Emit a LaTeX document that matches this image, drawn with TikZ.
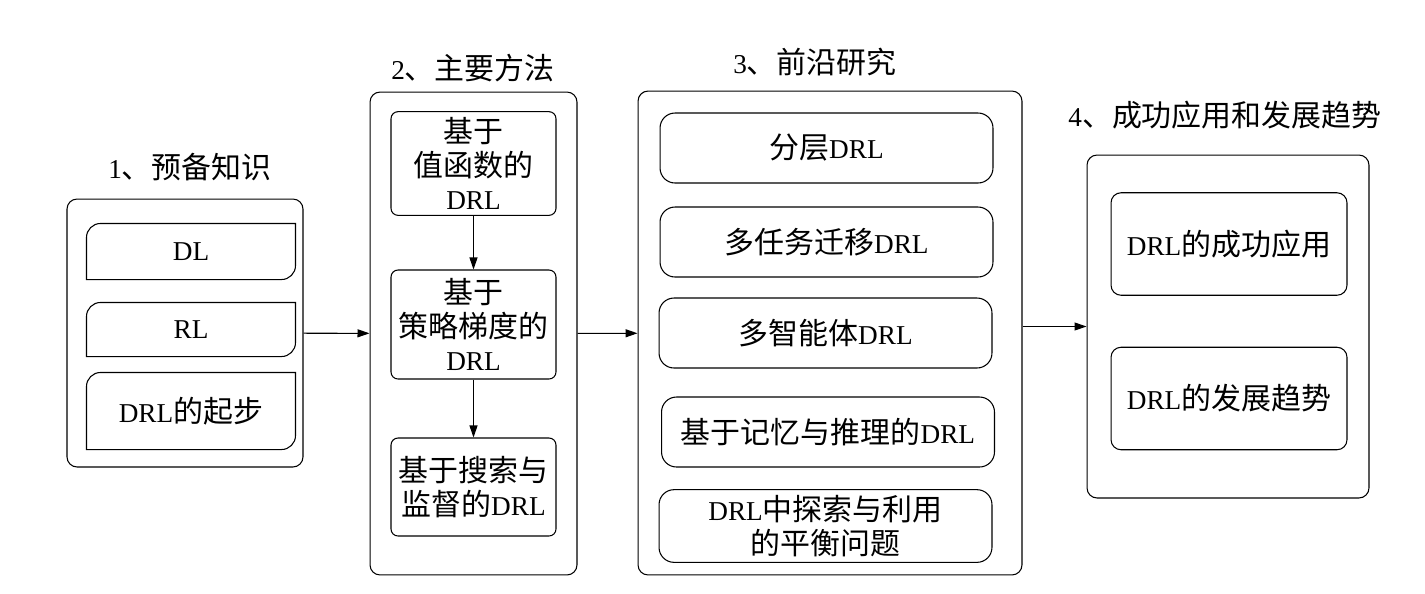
\documentclass[tikz,border=0pt]{standalone}
\usepackage{fontspec}
\setmainfont{Liberation Serif}
\newfontfamily\cjk[Scale=1.1]{Noto Sans CJK SC}
\newcommand{\zh}[1]{{\cjk #1}}
\usetikzlibrary{arrows.meta}
\begin{document}
\begin{tikzpicture}[x=0.02cm, y=-0.02cm, line width=0.6pt,
  every node/.style={font=\fontsize{15.5}{19}\selectfont},
  group/.style={rectangle, rounded corners=0.2cm, draw},
  tab/.style={rectangle, minimum width=4.16cm, align=center},
  item/.style={rectangle, rounded corners=0.14cm, draw, minimum width=3.3cm, align=center},
  topic/.style={rectangle, rounded corners=0.3cm, draw, minimum width=6.66cm,
                minimum height=1.4cm, align=center},
  result/.style={rectangle, rounded corners=0.2cm, draw, minimum width=4.72cm,
                 minimum height=2.05cm, align=center},
  arrow/.style={-{Triangle[length=2.4mm, width=1.6mm]}}
]
  \useasboundingbox (0,0) rectangle (1425,593);

  \node[group, minimum width=4.72cm, minimum height=5.36cm] (prep) at (185,333) {};
  \node (prept) at (190,167) {1\zh{、预备知识}};
  \node[tab, minimum height=1.1cm] (dl) at (191,251.5) {DL};
  \node[tab, minimum height=1.06cm] (rl) at (191,329.5) {RL};
  \node[tab, minimum height=1.52cm] (start) at (191,411) {DRL\zh{的起步}};
  \foreach \n in {dl,rl,start}
    \draw (\n.north east) [rounded corners=0.28cm] -- (\n.south east) [sharp corners]
      -- (\n.south west) [rounded corners=0.28cm] -- (\n.north west) [sharp corners] -- cycle;

  \node[group, minimum width=4.14cm, minimum height=9.66cm] (meth) at (473.5,333.5) {};
  \node (metht) at (473,68) {2\zh{、主要方法}};
  \node[item, minimum height=1.98cm] (value) at (473.5,163.5) {\zh{基于}\\\zh{值函数的}\\DRL};
  \node[item, minimum height=2.18cm] (policy) at (473.5,324.5) {\zh{基于}\\\zh{策略梯度的}\\DRL};
  \node[item, minimum height=1.96cm] (search) at (473.5,487) {\zh{基于搜索与}\\\zh{监督的}DRL};

  \node[group, minimum width=7.68cm, minimum height=9.68cm] (front) at (830,333) {};
  \node (frontt) at (815,62) {3\zh{、前沿研究}};
  \node[topic] (hier) at (826.5,148) {\zh{分层}DRL};
  \node[topic] (multi) at (826.5,242) {\zh{多任务迁移}DRL};
  \node[topic] (agent) at (825.5,333) {\zh{多智能体}DRL};
  \node[topic] (memory) at (828,432) {\zh{基于记忆与推理的}DRL};
  \node[topic] (explore) at (825.5,526) {DRL\zh{中探索与利用}\\\zh{的平衡问题}};

  \node[group, minimum width=5.64cm, minimum height=6.86cm] (app) at (1228,326.5) {};
  \node (appt) at (1225,115) {4\zh{、成功应用和发展趋势}};
  \node[result] (success) at (1229,244) {DRL\zh{的成功应用}};
  \node[result] (trend) at (1229,398.5) {DRL\zh{的发展趋势}};

  \draw[arrow] (prep) -- (meth);
  \draw[arrow] (meth) -- (front);
  \draw[arrow] (front.east |- app.west) -- (app.west);
  \draw[arrow] (value) -- (policy);
  \draw[arrow] (policy) -- (search);
\end{tikzpicture}
\end{document}
